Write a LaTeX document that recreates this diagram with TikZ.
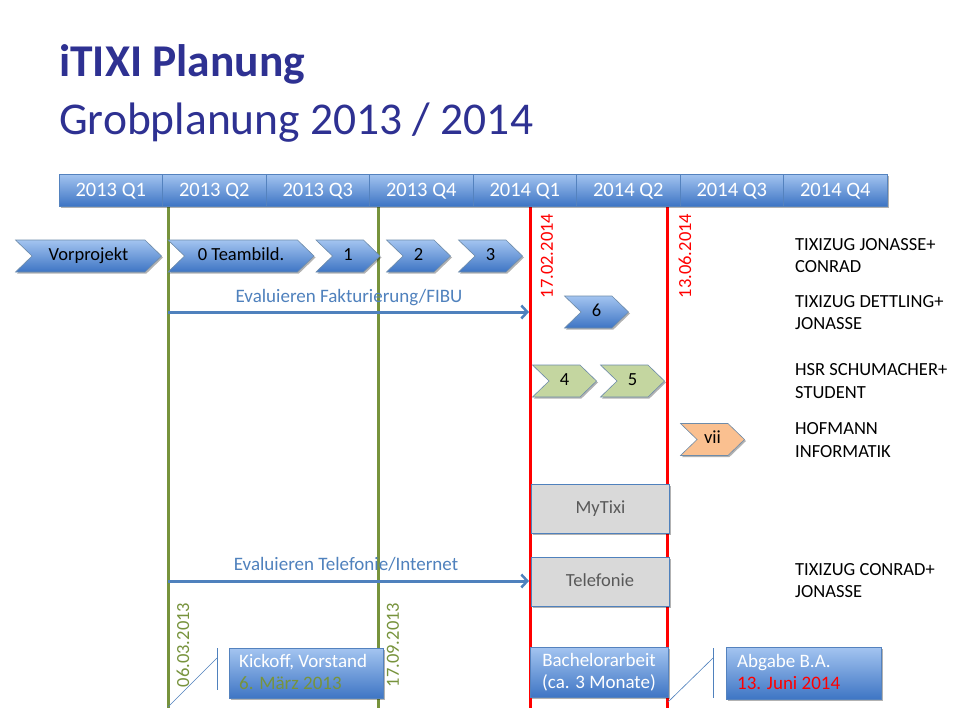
\documentclass[tikz,border=0pt]{standalone}
\usepackage{fontspec}
\setmainfont{Carlito}
\usetikzlibrary{shapes.symbols,arrows.meta,shadows}
\definecolor{titleblue}{RGB}{46,49,146}
\definecolor{bartop}{RGB}{163,196,240}
\definecolor{barbot}{RGB}{62,117,196}
\definecolor{barline}{RGB}{84,130,190}
\definecolor{greenfill}{RGB}{196,214,160}
\definecolor{orangefill}{RGB}{250,192,144}
\definecolor{grayfill}{RGB}{217,217,217}
\definecolor{olive}{RGB}{119,147,60}
\definecolor{steel}{RGB}{79,129,189}
\definecolor{shapeline}{RGB}{110,140,170}
\definecolor{darkgray}{RGB}{89,89,89}
\tikzset{
  txt/.style={font=\fontsize{18.5}{22}\selectfont},
  shad/.style={drop shadow={shadow xshift=1.5pt,shadow yshift=-1.5pt,opacity=0.3,fill=black}},
  quarter/.style={rectangle,draw=barline,line width=0.6pt,top color=bartop,bottom color=barbot,
    minimum width=103.5pt,minimum height=32pt,inner sep=0pt,text=white,
    font=\fontsize{20.5}{24}\selectfont,text height=12.5pt,text depth=0pt,shad},
  chev/.style={signal,signal to=east,signal from=west,signal pointer angle=88,
    draw=shapeline,line width=0.6pt,minimum height=32pt,inner sep=0pt,txt,
    text height=11.5pt,text depth=3pt,shad},
  bluechev/.style={chev,top color=bartop,bottom color=barbot},
  greenchev/.style={chev,fill=greenfill},
  orangechev/.style={chev,fill=orangefill},
  graybox/.style={rectangle,draw=steel,line width=0.8pt,fill=grayfill,minimum width=138pt,
    minimum height=49pt,inner sep=0pt,text=darkgray,txt,text height=12pt,text depth=2pt,shad},
  bluebox/.style={rectangle,draw=barline,line width=0.6pt,top color=bartop,bottom color=barbot,
    minimum height=50pt,inner sep=0pt,txt,shad},
  greenline/.style={draw=olive,line width=3pt},
  redline/.style={draw=red,line width=3pt},
  evalarrow/.style={draw=steel,line width=3pt,-{Straight Barb[length=6pt,width=13pt,line width=2.5pt]}},
  evaltext/.style={text=steel,font=\fontsize{19}{23}\selectfont},
  team/.style={anchor=base west,txt,text=black,align=left,inner sep=0pt},
  datelabel/.style={rotate=90,txt},
  boxtext/.style={inner sep=0pt,font=\fontsize{19}{23}\selectfont},
  callout/.style={draw=steel,line width=0.6pt}
}
\begin{document}
\begin{tikzpicture}[x=1pt,y=-1pt]
\useasboundingbox[fill=white] (0,0) rectangle (960,720);

% title
\node[anchor=base west,inner sep=0pt,text=titleblue,font=\fontsize{45.5}{50}\selectfont\bfseries] (title) at (59,76) {iTIXI Planung};
\node[anchor=base west,inner sep=0pt,text=titleblue,font=\fontsize{45.5}{50}\selectfont] (subtitle) at (59,134) {Grobplanung 2013 / 2014};

% vertical lines
\coordinate (g1t) at (168,206); \coordinate (g1b) at (168,708);
\coordinate (g2t) at (378,206); \coordinate (g2b) at (378,708);
\coordinate (r1t) at (530.5,206); \coordinate (r1b) at (530.5,708);
\coordinate (r2t) at (667.5,206); \coordinate (r2b) at (667.5,708);
\draw[greenline] (g1t) -- (g1b);
\draw[greenline] (g2t) -- (g2b);
\draw[redline] (r1t) -- (r1b);
\draw[redline] (r2t) -- (r2b);

% timeline
\foreach \lab [count=\i from 0] in {2013 Q1,2013 Q2,2013 Q3,2013 Q4,2014 Q1,2014 Q2,2014 Q3,2014 Q4}{
  \node[quarter] (q\i) at ({59+51.75+103.5*\i},190) {\lab};
}

% date labels
\node[datelabel,text=red] (d1) at (547,256) {17.02.2014};
\node[datelabel,text=red] (d2) at (685,256) {13.06.2014};
\node[datelabel,text=olive] (d3) at (183,645) {06.03.2013};
\node[datelabel,text=olive] (d4) at (393,645) {17.09.2013};

% chevrons row
\node[bluechev,minimum width=146pt] (vor) at (88.5,256) {Vorprojekt};
\node[bluechev,minimum width=146pt] (c0) at (241,256) {0 Teambild.};
\node[bluechev,minimum width=64pt] (c1) at (348,256) {1};
\node[bluechev,minimum width=64pt] (c2) at (418.5,256) {2};
\node[bluechev,minimum width=64pt] (c3) at (490.5,256) {3};
\node[bluechev,minimum width=64pt] (c6) at (596.5,312) {6};
\node[greenchev,minimum width=64pt] (c4) at (564.5,381) {4};
\node[greenchev,minimum width=64pt] (c5) at (632.5,381) {5};
\node[orangechev,minimum width=64pt] (c7) at (712.5,439.5) {vii};

% evaluation arrows
\coordinate (fa) at (168,312); \coordinate (fb) at (529,312);
\draw[evalarrow] (fa) -- (fb);
\node[evaltext,anchor=base] (ftext) at (349,302) {Evaluieren Fakturierung/FIBU};
\coordinate (ta) at (168,581); \coordinate (tb) at (529,581);
\draw[evalarrow] (ta) -- (tb);
\node[evaltext,anchor=base] (ttext) at (346,570) {Evaluieren Telefonie/Internet};

% gray boxes
\node[graybox] (mytixi) at (600.5,508.5) {MyTixi};
\node[graybox] (telef) at (600,581.5) {Telefonie};

% team labels
\node[team] (t1) at (795,250) {TIXIZUG JONASSE+};
\node[team] (t1b) at (795,272) {CONRAD};
\node[team] (t2) at (795,307) {TIXIZUG DETTLING+};
\node[team] (t2b) at (795,329) {JONASSE};
\node[team] (t3) at (795,375) {HSR SCHUMACHER+};
\node[team] (t3b) at (795,398) {STUDENT};
\node[team] (t4) at (795,434) {HOFMANN};
\node[team] (t4b) at (795,457) {INFORMATIK};
\node[team] (t5) at (795,575) {TIXIZUG CONRAD+};
\node[team] (t5b) at (795,597) {JONASSE};

% bottom boxes
\node[bluebox,minimum width=154pt,anchor=north west] (kick) at (229,648) {};
\node[anchor=base west,boxtext,text=white] (kick1) at (239,667) {Kickoff, Vorstand};
\node[anchor=base west,boxtext,text=olive] (kick2) at (239,689) {6. März 2013};

\node[bluebox,minimum width=138pt,anchor=north west] (ba) at (530,647) {};
\node[anchor=base,boxtext,text=white] (ba1) at (599,666) {Bachelorarbeit};
\node[anchor=base,boxtext,text=white] (ba2) at (599,688) {(ca. 3 Monate)};

\node[bluebox,minimum width=155pt,minimum height=52pt,anchor=north west] (abg) at (726,647) {};
\node[anchor=base west,boxtext,text=white] (abg1) at (737,667) {Abgabe B.A.};
\node[anchor=base west,boxtext,text=red] (abg2) at (737,689) {13. Juni 2014};

% callouts
\coordinate (k1) at (217,648); \coordinate (k2) at (217,690); \coordinate (k3) at (217,658); \coordinate (k4) at (168,707);
\draw[callout] (k1) -- (k2);
\draw[callout] (k3) -- (k4);
\coordinate (a1) at (713,648); \coordinate (a2) at (713,698); \coordinate (a3) at (713,658); \coordinate (a4) at (668,702);
\draw[callout] (a1) -- (a2);
\draw[callout] (a3) -- (a4);
\end{tikzpicture}
\end{document}
